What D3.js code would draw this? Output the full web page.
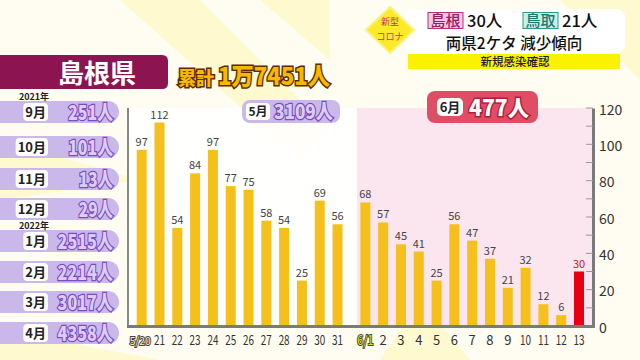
<!DOCTYPE html>
<html><head><meta charset="utf-8">
<script src="https://cdn.jsdelivr.net/npm/d3@7"></script>
<style>
html,body{margin:0;padding:0;background:#fffbe8;}
svg{display:block;}
text{font-family:"Noto Sans CJK JP","Noto Sans",sans-serif;}
</style></head>
<body>
<svg id="c" width="640" height="360"></svg>
<script>
const dates = ["5/20","21","22","23","24","25","26","27","28","29","30","31","6/1","2","3","4","5","6","7","8","9","10","11","12","13"];
const cases = [97,112,54,84,97,77,75,58,54,25,69,56,68,57,45,41,25,56,47,37,21,32,12,6,30];
const juneStart = 12;
const yTicks = [0,20,40,60,80,100,120];
const months = ["9月","10月","11月","12月","1月","2月","3月","4月"];
const monthTotals = ["251人","101人","13人","29人","2515人","2214人","3017人","4358人"];
const yearLabels = [{i:0,t:"2021年"},{i:4,t:"2022年"}];

const svg = d3.select("#c");

// background rays
const bg = svg.append("g");
bg.append("rect").attr("width",640).attr("height",360).attr("fill","#fffdf2");
const rays = [[[120,0],[200,0],[330,130],[300,160]],[[260,0],[330,0],[330,60]],[[0,140],[0,200],[140,180]],[[560,0],[640,0],[640,80]],[[0,330],[0,360],[160,360]],[[380,360],[470,360],[420,300]]];
rays.forEach(p=>bg.append("polygon").attr("points",p.map(d=>d.join(",")).join(" ")).attr("fill","#fdf5b0").attr("opacity",0.55));

// chart scales
const x = d3.scalePoint().domain(dates).range([141.7, 569]);
const xPos = (d,i) => x(d) + (i >= juneStart ? 10 : 0);
const y = d3.scaleLinear().domain([0,120]).range([326,108]);

// plot background
svg.append("rect").attr("x",128).attr("y",108).attr("width",229).attr("height",218).attr("fill","#ffffff").attr("opacity",0.85);
svg.append("rect").attr("x",357).attr("y",108).attr("width",236).attr("height",218).attr("fill","#fbe5ef");

// bars
const bw = 10;
svg.append("g").selectAll("rect").data(cases).join("rect")
  .attr("x",(d,i)=>xPos(dates[i],i)-bw/2)
  .attr("y",d=>y(d))
  .attr("width",bw)
  .attr("height",d=>y(0)-y(d))
  .attr("fill",(d,i)=>i===cases.length-1?"#e60012":"#f5c01c");

// value labels
svg.append("g").selectAll("text").data(cases).join("text")
  .attr("x",(d,i)=>xPos(dates[i],i))
  .attr("y",d=>y(d)-4)
  .attr("text-anchor","middle")
  .attr("font-size",11)
  .attr("fill",(d,i)=>i===cases.length-1?"#d0101a":"#444")
  .text(d=>d);

// axes lines
svg.append("line").attr("x1",128).attr("x2",128).attr("y1",108).attr("y2",326).attr("stroke","#888").attr("stroke-width",2);
const yAxis = d3.axisRight(y).tickValues(yTicks).tickSize(0).tickPadding(6).tickFormat(d3.format("d"));
const ga = svg.append("g").attr("transform","translate(593,0)").call(yAxis);
ga.select(".domain").attr("stroke","#7a7a7a").attr("stroke-width",3);
ga.selectAll("text").attr("font-size",14).attr("fill","#333").attr("font-family","'Noto Sans',sans-serif").attr("dy","0.45em");
const minor = d3.range(0,121,10);
svg.append("g").selectAll("line").data(minor).join("line")
  .attr("x1",586).attr("x2",593).attr("y1",d=>y(d)).attr("y2",d=>y(d)).attr("stroke","#999").attr("stroke-width",1);
svg.append("line").attr("x1",127).attr("x2",595).attr("y1",326.5).attr("y2",326.5).attr("stroke","#7a7a7a").attr("stroke-width",3);

// x labels
const xl = svg.append("g").selectAll("text").data(dates).join("text")
  .attr("x",(d,i)=>xPos(d,i) - (i===0?1.5:0))
  .attr("y",345)
  .attr("text-anchor","middle")
  .attr("font-size",(d,i)=>i===0?11:13)
  .attr("fill",(d,i)=>i===0?"#f4f0c8":(i===juneStart?"#e8e000":"#333"))
  .attr("stroke",(d,i)=>(i===0||i===juneStart)?"#444":"none")
  .attr("stroke-width",2)
  .attr("paint-order","stroke")
  .text(d=>d);
xl.filter(d=>d.length>1).attr("textLength",d=>d==="5/20"?21:(d==="6/1"?16:11)).attr("lengthAdjust","spacingAndGlyphs");
xl.filter((d,i)=>i===0).attr("y",344.5).attr("transform","translate(0,0)");

// header 島根県
svg.append("path").attr("d","M0,55 H162 Q168,55 168,61 V83 Q168,89 162,89 H0 Z").attr("fill","#8c1450");
svg.append("text").attr("x",97).attr("y",83).attr("text-anchor","middle").attr("font-size",26).attr("font-weight",700).attr("fill","#fff").text("島根県");

// 累計
const tot = svg.append("text").attr("x",178).attr("y",85).attr("font-weight",900)
  .attr("fill","#f7b800").attr("stroke","#5a2e00").attr("stroke-width",3).attr("paint-order","stroke");
tot.append("tspan").attr("font-size",18).text("累計");
tot.append("tspan").attr("x",218).attr("font-size",24).attr("textLength",112).attr("lengthAdjust","spacingAndGlyphs").text("1万7451人");

// month rows
const rowY = [112,147,179,209,241,272,302,333];
const rows = svg.append("g");
months.forEach((m,i)=>{
  const cy = rowY[i];
  rows.append("rect").attr("x",-12).attr("y",cy-11).attr("width",131).attr("height",22).attr("rx",11).attr("fill","#cab8ea");
  const t = rows.append("text").attr("x",46).attr("y",cy+5).attr("text-anchor","end").attr("font-size",13).attr("font-weight",700).attr("fill","#222").text(m);
  const bb = t.node().getBBox();
  rows.insert("rect",()=>t.node()).attr("x",bb.x-2).attr("y",cy-9).attr("width",bb.width+4).attr("height",18).attr("rx",4).attr("fill","#fff");
  const nd = monthTotals[i].length-1;
  const w = nd*10.6+13;
  rows.append("text").attr("x",113-w).attr("y",cy+7.5).attr("font-size",20).attr("font-weight",900)
    .attr("textLength",w).attr("lengthAdjust","spacingAndGlyphs")
    .attr("fill","#dccdf8").attr("stroke","#7a4cc0").attr("stroke-width",2.5).attr("paint-order","stroke").text(monthTotals[i]);
});
yearLabels.forEach(d=>{
  rows.append("text").attr("x",34).attr("y",rowY[d.i]-12).attr("text-anchor","middle").attr("font-size",9).attr("font-weight",700).attr("fill","#222").text(d.t);
});

// 5月 badge
const b5 = svg.append("g");
b5.append("rect").attr("x",242).attr("y",100).attr("width",98).attr("height",23).attr("rx",8).attr("fill","#cab8ea");
b5.append("rect").attr("x",246).attr("y",103).attr("width",24).attr("height",17).attr("rx",4).attr("fill","#fff");
b5.append("text").attr("x",258).attr("y",116).attr("text-anchor","middle").attr("font-size",12).attr("font-weight",700).attr("fill","#222").text("5月");
b5.append("text").attr("x",274).attr("y",119).attr("font-size",20).attr("font-weight",900).attr("textLength",59).attr("lengthAdjust","spacingAndGlyphs")
  .attr("fill","#dccdf8").attr("stroke","#7a4cc0").attr("stroke-width",2.5).attr("paint-order","stroke").text("3109人");

// 6月 badge
const b6 = svg.append("g");
b6.append("rect").attr("x",427).attr("y",91).attr("width",111).attr("height",32).attr("rx",8).attr("fill","#e04e66");
b6.append("rect").attr("x",437).attr("y",98).attr("width",26).attr("height",18).attr("rx",5).attr("fill","#fff");
b6.append("text").attr("x",450).attr("y",112).attr("text-anchor","middle").attr("font-size",13).attr("font-weight",700).attr("fill","#222").text("6月");
b6.append("text").attr("x",469).attr("y",116).attr("font-size",22).attr("font-weight",900).attr("textLength",60).attr("lengthAdjust","spacingAndGlyphs")
  .attr("fill","#fff").attr("stroke","#b81c3a").attr("stroke-width",3).attr("paint-order","stroke").text("477人");

// top right title box
const tb = svg.append("g");
tb.append("rect").attr("x",408).attr("y",54).attr("width",212).attr("height",15).attr("fill","#fbf200");
tb.append("rect").attr("x",405).attr("y",9).attr("width",220).attr("height",44).attr("rx",8).attr("fill","#fff");
tb.append("text").attr("x",515).attr("y",66).attr("text-anchor","middle").attr("font-size",11.5).attr("font-weight",500).attr("fill","#222").text("新規感染確認");
tb.append("rect").attr("x",428).attr("y",12.5).attr("width",35).attr("height",16).attr("fill","#f5c8e4").attr("stroke","#b0307a").attr("stroke-width",1);
tb.append("text").attr("x",445.5).attr("y",26).attr("text-anchor","middle").attr("font-size",15).attr("font-weight",500).attr("fill","#9a1a60").text("島根");
tb.append("text").attr("x",467).attr("y",26.5).attr("font-size",16.5).attr("font-weight",500).attr("fill","#111").text("30人");
tb.append("rect").attr("x",523).attr("y",12.5).attr("width",35).attr("height",16).attr("fill","#cdeee8").attr("stroke","#2a9a8a").attr("stroke-width",1);
tb.append("text").attr("x",540.5).attr("y",26).attr("text-anchor","middle").attr("font-size",15).attr("font-weight",500).attr("fill","#1a7a70").text("鳥取");
tb.append("text").attr("x",562).attr("y",26.5).attr("font-size",16.5).attr("font-weight",500).attr("fill","#111").text("21人");
tb.append("text").attr("x",514).attr("y",49).attr("text-anchor","middle").attr("font-size",15.5).attr("font-weight",500).attr("fill","#111").text("両県2ケタ 減少傾向");

// diamond
const dm = svg.append("g");
dm.append("polygon").attr("points","390,7 414,30 390,53 366,30").attr("fill","#fbea2a").attr("stroke","#fdf27a").attr("stroke-width",2).attr("stroke-linejoin","round");
dm.append("text").attr("x",390).attr("y",25).attr("text-anchor","middle").attr("font-size",9).attr("fill","#c8306a").text("新型");
dm.append("text").attr("x",390).attr("y",39.5).attr("text-anchor","middle").attr("font-size",9).attr("fill","#c8306a").text("コロナ");
</script>
</body></html>
